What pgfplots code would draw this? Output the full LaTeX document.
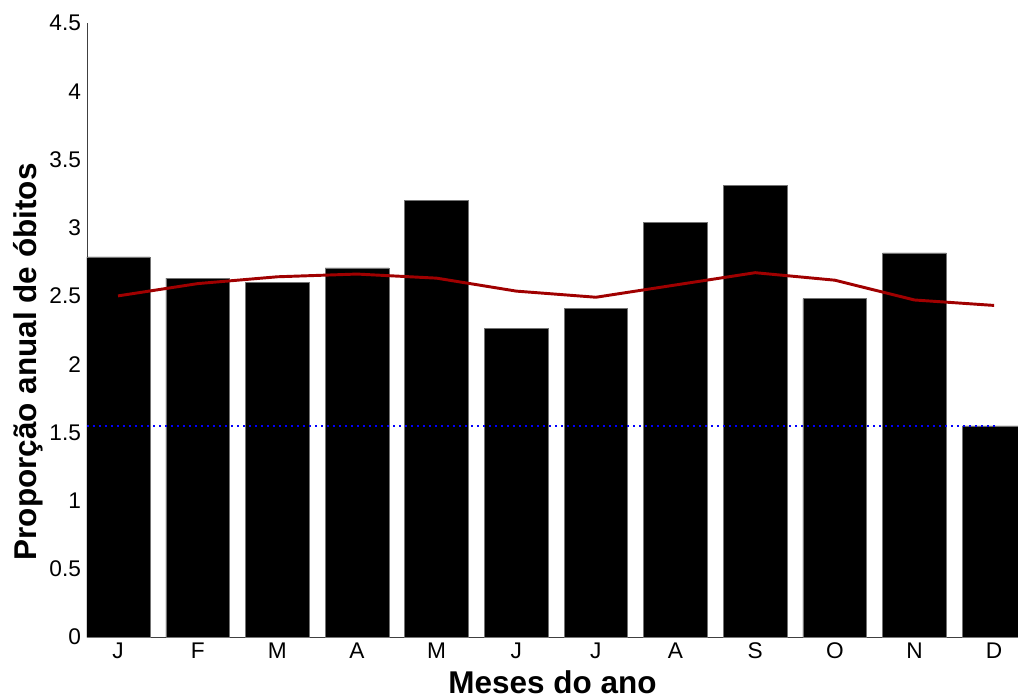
\documentclass[border=0pt]{standalone}
\usepackage{fontspec}
\setmainfont{Liberation Sans}
\usepackage{pgfplots}
\pgfplotsset{compat=1.18}
\definecolor{darkred}{RGB}{160,0,0}
\begin{document}
\begin{tikzpicture}[x=1pt,y=1pt]
\begin{axis}[
  scale only axis,
  width=698.25pt, height=460.5pt,
  xmin=0.61, xmax=12.3,
  ymin=0, ymax=4.5,
  axis x line*=bottom, axis y line*=left,
  axis line style={draw=black!75, line width=0.6pt, -},
  xtick={1,...,12},
  xticklabels={J,F,M,A,M,J,J,A,S,O,N,D},
  ytick={0,0.5,1,1.5,2,2.5,3,3.5,4,4.5},
  yticklabels={0,0.5,1,1.5,2,2.5,3,3.5,4,4.5},
  major tick length=0pt,
  tick label style={font=\fontsize{17pt}{18pt}\selectfont},
  xticklabel style={yshift=-1pt},
  yticklabel style={xshift=-1pt},
  xlabel={\textbf{Meses do ano}},
  ylabel={\textbf{Proporção anual de óbitos}},
  label style={font=\fontsize{23.6pt}{26pt}\selectfont},
  xlabel style={at={(axis description cs:0.5,0)}, anchor=base, inner sep=0pt, yshift=-42pt},
  ylabel style={at={(axis description cs:0,0.448)}, anchor=center, rotate=0, yshift=44.25pt},
  clip=true,
]
\addplot[ybar, bar width=0.8, fill=black, draw=black!55, line width=0.5pt] coordinates {
(1,2.786) (2,2.63) (3,2.60) (4,2.705) (5,3.20) (6,2.26) (7,2.41) (8,3.04) (9,3.31) (10,2.48) (11,2.815) (12,1.547)};
\addplot[color={rgb,255:red,0;green,0;blue,255}, line width=1.5pt, dash pattern=on 1.5pt off 3pt] coordinates {(0.61,1.55) (12.02,1.55)};
\addplot[darkred, line width=2.2pt] coordinates {
(1,2.50) (2,2.59) (3,2.64) (4,2.66) (5,2.63) (6,2.535) (7,2.49) (8,2.58) (9,2.67) (10,2.615) (11,2.47) (12,2.43)};
\end{axis}
\pgfresetboundingbox
\path[use as bounding box] ([shift={(-65.25pt,-45pt)}]current axis.south west) rectangle ([shift={(0pt,17.25pt)}]current axis.north east);
\end{tikzpicture}
\end{document}
